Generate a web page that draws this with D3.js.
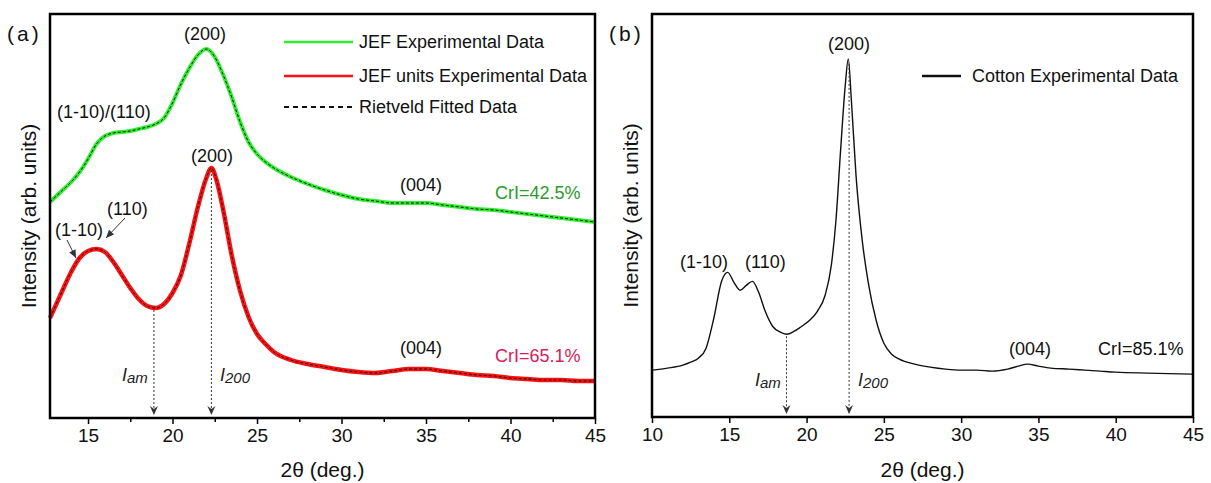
<!DOCTYPE html>
<html>
<head>
<meta charset="utf-8">
<script src="https://cdn.jsdelivr.net/npm/d3@7"></script>
<style>
  body { margin: 0; background: #fff; }
  text { font-family: Arial, "Liberation Sans", sans-serif; }
</style>
</head>
<body>
<div id="svgTarget"></div>
<script>
// 2theta (deg.) and intensity (arb. units)
const jefTheta = [12.75, 13.5, 14, 14.5, 15, 15.5, 16, 16.5, 17, 17.5, 18, 18.5, 19, 19.5, 20, 20.5, 21, 21.5, 22, 22.5, 23, 23.5, 24, 24.5, 25, 25.5, 26, 27, 28, 29, 30, 31, 32, 33, 34, 35, 36, 37, 38, 39, 40, 41, 42, 43, 44, 45];
const jefValues = [2160, 2280, 2360, 2460, 2590, 2740, 2820, 2850, 2860, 2870, 2890, 2910, 2940, 3000, 3150, 3340, 3500, 3630, 3690, 3610, 3430, 3210, 2960, 2760, 2640, 2560, 2500, 2410, 2340, 2280, 2230, 2190, 2170, 2150, 2150, 2150, 2130, 2110, 2090, 2080, 2060, 2040, 2020, 2000, 1980, 1960];

const unitsTheta = [12.75, 13.5, 14, 14.5, 15, 15.5, 16, 16.5, 17, 17.5, 18, 18.5, 19, 19.5, 20, 20.5, 21, 21.5, 22, 22.3, 22.6, 23, 23.5, 24, 24.5, 25, 25.5, 26, 27, 28, 29, 30, 31, 32, 33, 34, 35, 36, 37, 38, 39, 40, 41, 42, 43, 44, 45];
const unitsValues = [1000, 1280, 1460, 1600, 1670, 1690, 1660, 1560, 1430, 1300, 1190, 1120, 1100, 1140, 1250, 1430, 1750, 2110, 2400, 2500, 2380, 2080, 1630, 1270, 1010, 840, 740, 660, 580, 540, 510, 480, 460, 450, 470, 490, 490, 470, 450, 430, 420, 400, 390, 380, 380, 370, 370];

const cottonTheta = [10, 11, 12, 12.5, 13, 13.5, 14, 14.5, 14.9, 15.3, 15.7, 16.1, 16.5, 16.9, 17.3, 17.8, 18.3, 18.7, 19.2, 19.6, 20.2, 20.7, 21.2, 21.6, 21.9, 22.2, 22.5, 22.7, 22.9, 23.2, 23.6, 24, 24.5, 25, 25.5, 26, 27, 28, 29, 30, 31, 32, 33, 33.7, 34.3, 35, 35.8, 37, 38, 39, 40, 42, 45];
const cottonValues = [470, 490, 520, 550, 590, 690, 990, 1360, 1450, 1350, 1270, 1320, 1360, 1250, 1070, 910, 850, 830, 860, 900, 970, 1060, 1220, 1520, 1970, 2670, 3320, 3590, 3170, 2420, 1770, 1340, 970, 740, 630, 580, 530, 500, 480, 470, 470, 460, 480, 510, 530, 510, 490, 480, 470, 460, 450, 440, 430];

// reference lines: [2theta, intensity at the top of the arrow]
const arrowsA = [[18.9, 1100], [22.3, 2500]];
const arrowsB = [[18.7, 830], [22.75, 3560]];

const ticksA = [15, 20, 25, 30, 35, 40, 45];
const minorA = [17.5, 22.5, 27.5, 32.5, 37.5, 42.5];
const ticksB = [10, 15, 20, 25, 30, 35, 40, 45];

const svg = d3.select("#svgTarget")
  .append("svg")
    .attr("width", 1211)
    .attr("height", 483);

function panel (opt) {
  const g = svg.append("g");

  const x = d3.scaleLinear().domain(opt.xDomain).range([opt.left, opt.right]);
  const y = d3.scaleLinear().domain([0, 4040]).range([opt.bottom, opt.top]);

  // x axis
  const xAxis = d3.axisBottom(x)
    .tickValues(opt.ticks)
    .tickSize(6)
    .tickSizeOuter(0)
    .tickFormat(d3.format("d"));
  const ax = g.append("g")
    .attr("transform", `translate(0, ${opt.bottom})`)
    .call(xAxis);
  ax.select(".domain").remove();
  ax.selectAll("line").attr("stroke", "#000").attr("stroke-width", 1.5);
  ax.selectAll("text")
    .attr("font-size", 19)
    .attr("fill", "#111")
    .attr("y", 11);

  if (opt.minor) {
    g.append("g")
      .attr("transform", `translate(0, ${opt.bottom})`)
      .call(d3.axisBottom(x).tickValues(opt.minor).tickSize(4).tickFormat(""))
      .call(a => a.select(".domain").remove())
      .selectAll("line").attr("stroke", "#000").attr("stroke-width", 1.5);
  }

  const line = d3.line()
    .x(d => x(d[0]))
    .y(d => y(d[1]))
    .curve(d3.curveMonotoneX);

  opt.series.forEach(s => {
    const pts = s.theta.map((t, i) => [t, s.values[i]]);
    g.append("path")
      .datum(pts)
      .attr("fill", "none")
      .attr("stroke", s.color)
      .attr("stroke-width", s.width)
      .attr("stroke-linejoin", "round")
      .attr("d", line);
    if (s.fit) {
      g.append("path")
        .datum(pts)
        .attr("fill", "none")
        .attr("stroke", "#111")
        .attr("stroke-width", 1)
        .attr("stroke-dasharray", "3,2")
        .attr("d", line);
    }
  });

  // dotted reference arrows down to the axis
  opt.arrows.forEach(a => {
    const px = x(a[0]);
    g.append("line")
      .attr("x1", px).attr("x2", px)
      .attr("y1", y(a[1]) + 2).attr("y2", opt.bottom - 4)
      .attr("stroke", "#333")
      .attr("stroke-width", 1)
      .attr("stroke-dasharray", "2,2");
    g.append("path")
      .attr("d", `M${px - 4},${opt.bottom - 12} L${px},${opt.bottom - 3} L${px + 4},${opt.bottom - 12} L${px},${opt.bottom - 9} Z`)
      .attr("fill", "#333");
  });

  // frame
  g.append("rect")
    .attr("x", opt.left)
    .attr("y", opt.top)
    .attr("width", opt.right - opt.left)
    .attr("height", opt.bottom - opt.top)
    .attr("fill", "none")
    .attr("stroke", "#000")
    .attr("stroke-width", 2.5);

  // axis labels
  g.append("text")
    .attr("x", (opt.left + opt.right) / 2)
    .attr("y", 477)
    .attr("font-size", 21)
    .attr("text-anchor", "middle")
    .attr("fill", "#111")
    .text("2θ (deg.)");

  g.append("text")
    .attr("x", -(opt.top + opt.bottom) / 2)
    .attr("y", opt.left - 14)
    .attr("font-size", 21)
    .attr("text-anchor", "middle")
    .attr("transform", "rotate(-90)")
    .attr("fill", "#111")
    .text("Intensity (arb. units)");

  g.append("text")
    .attr("x", opt.left - 43)
    .attr("y", 41)
    .attr("font-size", 21)
    .attr("fill", "#111")
    .attr("letter-spacing", 3)
    .text(opt.tag);

  return { g, x, y };
}

function label (g, px, py, txt, color, italic) {
  return g.append("text")
    .attr("x", px)
    .attr("y", py)
    .attr("font-size", 18)
    .attr("fill", color || "#111")
    .attr("font-style", italic ? "italic" : null)
    .text(txt);
}

function subLabel (g, px, py, main, sub) {
  const t = g.append("text")
    .attr("x", px).attr("y", py)
    .attr("font-size", 18)
    .attr("font-style", "italic")
    .attr("fill", "#222");
  t.append("tspan").text(main);
  t.append("tspan").attr("font-size", 15).attr("dy", 2).text(sub);
}

function arrow (g, x1, y1, x2, y2) {
  const ang = Math.atan2(y2 - y1, x2 - x1);
  g.append("line")
    .attr("x1", x1).attr("y1", y1).attr("x2", x2).attr("y2", y2)
    .attr("stroke", "#333").attr("stroke-width", 1);
  const h = 8, w = 3.5;
  const bx = x2 - h * Math.cos(ang), by = y2 - h * Math.sin(ang);
  g.append("path")
    .attr("d", `M${x2},${y2} L${bx - w * Math.sin(ang)},${by + w * Math.cos(ang)} L${bx + w * Math.sin(ang)},${by - w * Math.cos(ang)} Z`)
    .attr("fill", "#333");
}

// panel (a)
const a = panel({
  left: 50, right: 595, top: 14, bottom: 418,
  xDomain: [12.75, 45], ticks: ticksA, minor: minorA, tag: "(a)",
  arrows: arrowsA,
  series: [
    { theta: jefTheta, values: jefValues, color: "#2cf02c", width: 4, fit: true },
    { theta: unitsTheta, values: unitsValues, color: "#ff1010", width: 4.5, fit: true }
  ]
});

label(a.g, 184, 40, "(200)");
label(a.g, 57, 118, "(1-10)/(110)");
label(a.g, 191, 162, "(200)");
label(a.g, 107, 215, "(110)");
label(a.g, 55, 236, "(1-10)");
label(a.g, 400, 191, "(004)");
label(a.g, 400, 354, "(004)");
label(a.g, 495, 199, "CrI=42.5%", "#2a9a2a");
label(a.g, 495, 362, "CrI=65.1%", "#d81b5a");
arrow(a.g, 125, 218, 106, 238);
arrow(a.g, 67, 240, 76, 258);
subLabel(a.g, 122, 381, "I", "am");
subLabel(a.g, 220, 381, "I", "200");

// legend (a)
const legendA = [
  { name: "JEF Experimental Data", color: "#2cf02c", dash: null, y: 42 },
  { name: "JEF units Experimental Data", color: "#ff1010", dash: null, y: 76 },
  { name: "Rietveld Fitted Data", color: "#111", dash: "5,4", y: 107 }
];
legendA.forEach(l => {
  a.g.append("line")
    .attr("x1", 284).attr("x2", 353)
    .attr("y1", l.y).attr("y2", l.y)
    .attr("stroke", l.color)
    .attr("stroke-width", l.dash ? 2 : 2.5)
    .attr("stroke-dasharray", l.dash);
  label(a.g, 359, l.y + 6, l.name);
});

// panel (b)
const b = panel({
  left: 652, right: 1193, top: 14, bottom: 417,
  xDomain: [10, 45], ticks: ticksB, minor: null, tag: "(b)",
  arrows: arrowsB,
  series: [
    { theta: cottonTheta, values: cottonValues, color: "#111", width: 1.4, fit: false }
  ]
});

label(b.g, 828, 50, "(200)");
label(b.g, 680, 268, "(1-10)");
label(b.g, 745, 268, "(110)");
label(b.g, 1009, 355, "(004)");
label(b.g, 1098, 355, "CrI=85.1%");
subLabel(b.g, 755, 386, "I", "am");
subLabel(b.g, 858, 386, "I", "200");

b.g.append("line")
  .attr("x1", 922).attr("x2", 961)
  .attr("y1", 76).attr("y2", 76)
  .attr("stroke", "#111")
  .attr("stroke-width", 2.5);
label(b.g, 972, 82, "Cotton Experimental Data");
</script>
</body>
</html>
